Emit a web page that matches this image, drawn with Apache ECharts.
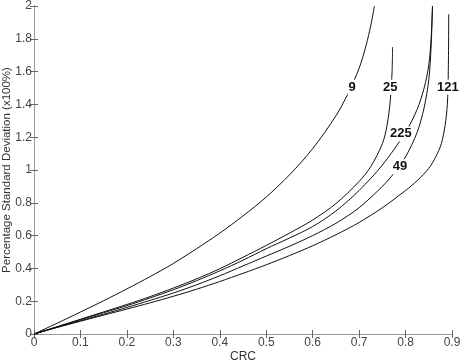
<!DOCTYPE html>
<html>
<head>
<meta charset="utf-8">
<script src="https://cdn.jsdelivr.net/npm/echarts@6/dist/echarts.min.js"></script>
<style>
  html, body { margin: 0; padding: 0; background: #fff; }
  #chart { width: 466px; height: 362px; }
</style>
</head>
<body>
<div id="chart"></div>
<script>
// curves, [CRC, std dev]
var curve9 = [[0,0],[0.05,0.066],[0.1,0.134],[0.15,0.203],[0.2,0.275],[0.25,0.35],[0.3,0.43],[0.35,0.52],[0.4,0.615],[0.45,0.72],[0.5,0.835],[0.55,0.97],[0.6,1.13],[0.65,1.33],[0.675,1.46],[0.7,1.62],[0.715,1.76],[0.725,1.88],[0.733,2.0]];
var curve25 = [[0,0],[0.05,0.045],[0.1,0.09],[0.15,0.135],[0.2,0.18],[0.25,0.228],[0.3,0.28],[0.35,0.336],[0.4,0.398],[0.45,0.468],[0.5,0.54],[0.55,0.615],[0.6,0.695],[0.65,0.795],[0.7,0.93],[0.725,1.02],[0.75,1.16],[0.76,1.27],[0.767,1.42],[0.771,1.6],[0.772,1.75]];
var curve225 = [[0,0],[0.05,0.043],[0.1,0.087],[0.15,0.13],[0.2,0.173],[0.25,0.22],[0.3,0.27],[0.35,0.325],[0.4,0.385],[0.45,0.45],[0.5,0.52],[0.55,0.585],[0.6,0.655],[0.65,0.75],[0.7,0.875],[0.75,1.03],[0.8,1.23],[0.825,1.37],[0.84,1.5],[0.85,1.64],[0.855,1.8],[0.858,2.0]];
var curve49 = [[0,0],[0.05,0.041],[0.1,0.081],[0.15,0.121],[0.2,0.162],[0.25,0.205],[0.3,0.25],[0.35,0.3],[0.4,0.355],[0.45,0.415],[0.5,0.475],[0.55,0.535],[0.6,0.6],[0.65,0.675],[0.7,0.77],[0.75,0.9],[0.775,0.98],[0.8,1.08],[0.825,1.23],[0.84,1.38],[0.85,1.55],[0.855,1.75],[0.858,2.0]];
var curve121 = [[0,0],[0.05,0.04],[0.1,0.078],[0.15,0.115],[0.2,0.152],[0.25,0.19],[0.3,0.23],[0.35,0.273],[0.4,0.32],[0.45,0.37],[0.5,0.422],[0.55,0.478],[0.6,0.538],[0.65,0.605],[0.7,0.68],[0.75,0.77],[0.8,0.875],[0.825,0.935],[0.85,1.01],[0.865,1.08],[0.877,1.16],[0.885,1.27],[0.89,1.4],[0.892,1.6],[0.893,1.95]];
var curveNames = ['9', '25', '225', '49', '121'];
var labelAt = [[0.685,1.505],[0.767,1.505],[0.79,1.22],[0.788,1.02],[0.891,1.505]];

var myChart = echarts.init(document.getElementById('chart'));
var allCurves = [curve9, curve25, curve225, curve49, curve121];

var series = [];
for (var i = 0; i < allCurves.length; i++) {
    series.push({
        name: curveNames[i],
        type: 'line',
        data: allCurves[i],
        showSymbol: false,
        smooth: 0.3,
        lineStyle: { color: '#111', width: 1 },
        z: 2,
        markPoint: {
            symbol: 'rect',
            symbolSize: 0,
            data: [{ coord: labelAt[i] }],
            label: {
                show: true,
                position: 'inside',
                formatter: curveNames[i],
                fontFamily: 'Liberation Sans, Arial',
                fontWeight: 'bold',
                fontSize: 13,
                color: '#111',
                backgroundColor: '#fff',
                padding: [1, 1]
            }
        }
    });
}

var tickStyle = { show: true, inside: true, length: 4, lineStyle: { color: '#666' } };
var lineBox = { show: true, lineStyle: { color: '#999' } };
var fmt = function (v) { return String(Math.round(v * 10) / 10); };

option = {
    animation: false,
    grid: { left: 34, right: 14, top: 6, bottom: 28, outerBoundsMode: 'none', containLabel: false },
    xAxis: [{
        type: 'value',
        min: 0, max: 0.9, interval: 0.1,
        name: 'CRC',
        nameLocation: 'middle',
        nameGap: 17,
        nameMoveOverlap: false,
        nameTextStyle: { fontFamily: 'Liberation Sans, Arial', fontSize: 12, color: '#333' },
        axisLine: lineBox,
        axisTick: tickStyle,
        splitLine: { show: false },
        axisLabel: { margin: 3, fontFamily: 'Liberation Sans, Arial', fontSize: 12, color: '#444', formatter: fmt }
    }, {
        type: 'value', position: 'top',
        min: 0, max: 0.9, interval: 0.1,
        axisLine: lineBox, axisTick: tickStyle,
        axisLabel: { show: false }, splitLine: { show: false }
    }],
    yAxis: [{
        type: 'value',
        min: 0, max: 2, interval: 0.2,
        name: 'Percentage Standard Deviation (x100%)',
        nameLocation: 'middle',
        nameGap: 21,
        nameMoveOverlap: false,
        nameTextStyle: { fontFamily: 'Liberation Sans, Arial', fontSize: 11.5, color: '#333' },
        axisLine: lineBox,
        axisTick: tickStyle,
        splitLine: { show: false },
        axisLabel: { margin: 2, fontFamily: 'Liberation Sans, Arial', fontSize: 12, color: '#444', formatter: fmt }
    }, {
        type: 'value', position: 'right',
        min: 0, max: 2, interval: 0.2,
        axisLine: lineBox, axisTick: tickStyle,
        axisLabel: { show: false }, splitLine: { show: false }
    }],
    series: series
};

myChart.setOption(option);
</script>
</body>
</html>
